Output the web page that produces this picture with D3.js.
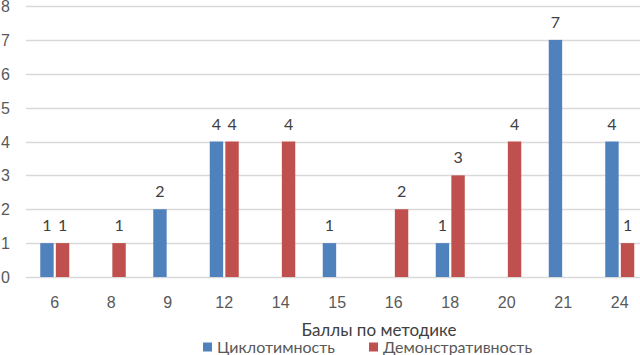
<!DOCTYPE html>
<html>
<head>
<meta charset="utf-8">
<script src="https://cdn.jsdelivr.net/npm/d3@7"></script>
<style>
  body { margin: 0; background: #fff; }
  svg { display: block; font-family: Lato, "Open Sans", sans-serif; }
  .tick text { fill: #595959; font-size: 16px; }
  .grid line { stroke: #d9d9d9; stroke-width: 1.3; }
  .bar-label { fill: #404040; font-size: 16px; text-anchor: middle; }
</style>
</head>
<body>
<div class="chart"></div>
<script>
const categories = ['6', '8', '9', '12', '14', '15', '16', '18', '20', '21', '24'];
const cyclo = [1, 0, 2, 4, 0, 1, 0, 1, 0, 7, 4];
const demo = [1, 1, 0, 4, 4, 0, 2, 3, 4, 0, 1];
const seriesNames = ['Циклотимность', 'Демонстративность'];
const colors = ['#4f81bd', '#c0504d'];
const yTicks = [0, 1, 2, 3, 4, 5, 6, 7, 8];

let w = 640, h = 355;

let svg = d3.select('.chart').append('svg')
  .attr('width', w)
  .attr('height', h);

let xScale = d3.scaleBand()
  .domain(categories)
  .range([26.5, 648]);

let yScale = d3.scaleLinear()
  .domain([0, 8])
  .range([277, 6]);

let inner = d3.scaleBand()
  .domain([0, 1])
  .range([xScale.bandwidth() / 2 - 14.5, xScale.bandwidth() / 2 + 14.5])
  .paddingInner(0.14);

// gridlines
svg.append('g')
  .attr('class', 'grid')
  .selectAll('line')
  .data(yTicks)
  .enter().append('line')
  .attr('x1', 26)
  .attr('x2', w)
  .attr('y1', d => Math.round(yScale(d)) + 0.5)
  .attr('y2', d => Math.round(yScale(d)) + 0.5);

let yaxis = svg.append('g')
  .attr('transform', 'translate(10,0)')
  .call(d3.axisLeft(yScale).tickValues(yTicks).tickSize(0).tickPadding(0).tickFormat(d3.format('d')));
yaxis.select('.domain').remove();
yaxis.selectAll('text').attr('dy', '0.35em');

let xaxis = svg.append('g')
  .attr('transform', 'translate(0,' + 294 + ')')
  .call(d3.axisBottom(xScale).tickSize(0).tickPadding(0));
xaxis.select('.domain').remove();
xaxis.selectAll('text').attr('dy', '0.35em').attr('y', 8);

let rows = categories.map((c, i) => ({cat: c, vals: [cyclo[i], demo[i]]}));

let groups = svg.selectAll('.grp')
  .data(rows)
  .enter().append('g')
  .attr('class', 'grp')
  .attr('transform', d => 'translate(' + xScale(d.cat) + ',0)');

groups.selectAll('rect')
  .data(d => d.vals.map((v, s) => ({v, s})).filter(e => e.v > 0))
  .enter().append('rect')
  .attr('x', d => inner(d.s))
  .attr('width', inner.bandwidth())
  .attr('y', d => yScale(d.v))
  .attr('height', d => yScale(0) - yScale(d.v))
  .attr('fill', d => colors[d.s]);

groups.selectAll('.bar-label')
  .data(d => d.vals.map((v, s) => ({v, s})).filter(e => e.v > 0))
  .enter().append('text')
  .attr('class', 'bar-label')
  .attr('x', d => inner(d.s) + inner.bandwidth() / 2)
  .attr('y', d => yScale(d.v) - 12)
  .text(d => d.v);

svg.append('text')
  .attr('x', 379)
  .attr('y', 336)
  .attr('text-anchor', 'middle')
  .style('font-size', '17px')
  .style('fill', '#404040')
  .text('Баллы по методике');

// legend
let legendX = [203, 369];
let legend = svg.selectAll('.legend')
  .data(seriesNames)
  .enter().append('g')
  .attr('class', 'legend')
  .attr('transform', (d, i) => 'translate(' + legendX[i] + ',347)');

legend.append('rect')
  .attr('x', 0)
  .attr('y', -4.5)
  .attr('width', 9)
  .attr('height', 9)
  .attr('fill', (d, i) => colors[i]);

legend.append('text')
  .attr('x', 14)
  .attr('dy', '0.35em')
  .style('font-size', '16px')
  .style('fill', '#595959')
  .text(d => d);
</script>
</body>
</html>
